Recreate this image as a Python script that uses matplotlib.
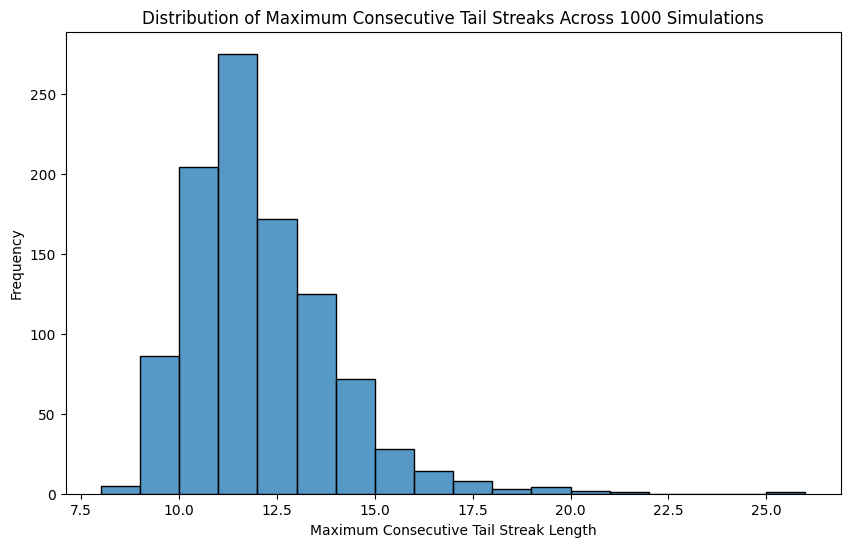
import numpy as np
import pandas as pd
import matplotlib
matplotlib.use("Agg")
import matplotlib.pyplot as plt
import seaborn as sns

streak_lengths = [8, 9, 10, 11, 12, 13, 14, 15, 16, 17, 18, 19, 20, 21, 22, 23, 24, 25]
frequencies = [5, 86, 204, 275, 172, 125, 72, 28, 14, 8, 3, 4, 2, 1, 0, 0, 0, 1]

df = pd.DataFrame({"length": np.array(streak_lengths) + 0.5, "count": frequencies})

fig, ax = plt.subplots(figsize=(10, 6))
sns.histplot(data=df, x="length", weights="count",
             binwidth=1, binrange=(8, 26), edgecolor="black", ax=ax)
ax.set_title("Distribution of Maximum Consecutive Tail Streaks Across 1000 Simulations")
ax.set_xlabel("Maximum Consecutive Tail Streak Length")
ax.set_ylabel("Frequency")
fig.savefig("out.png", dpi=100, bbox_inches="tight")
